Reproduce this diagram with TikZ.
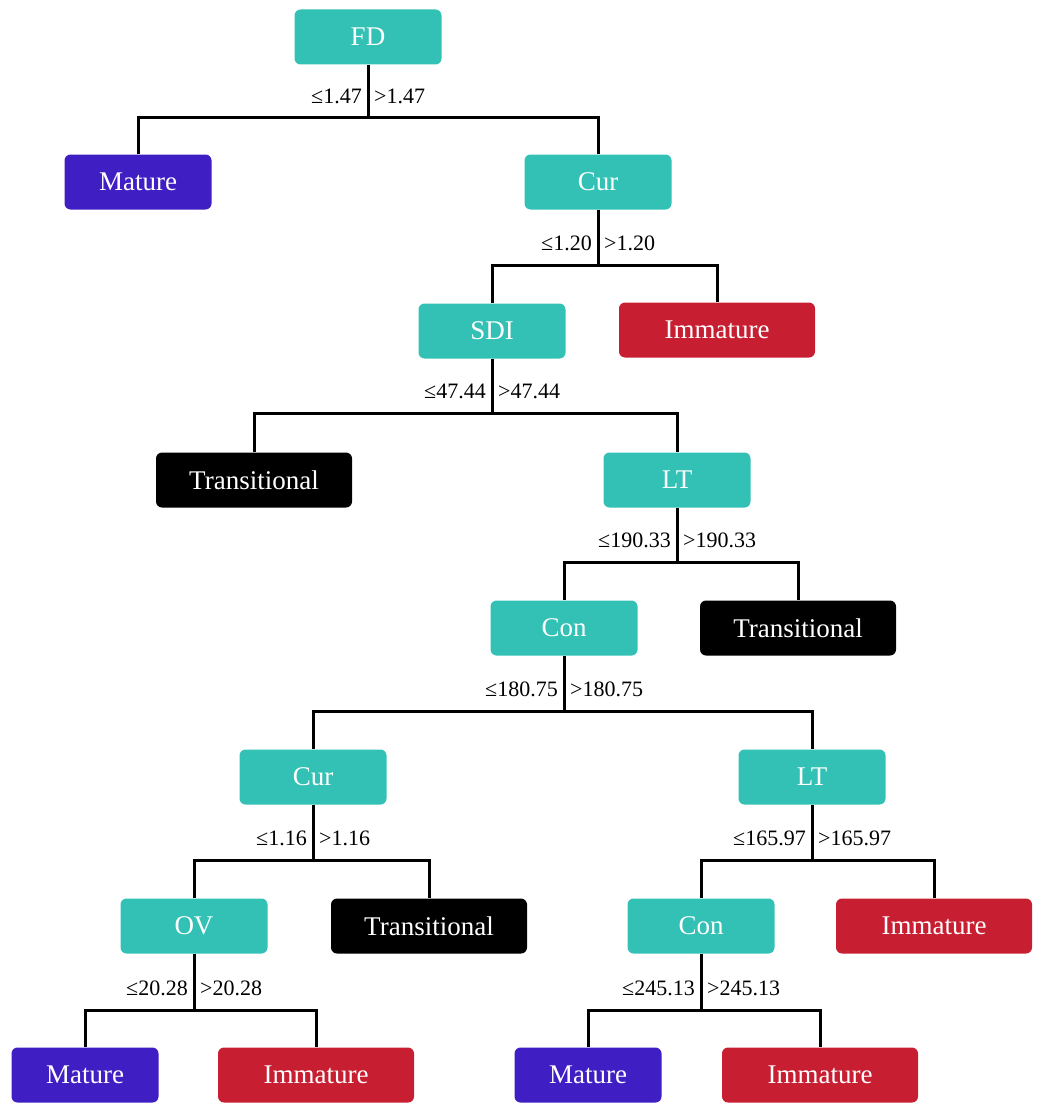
\documentclass[tikz,border=0pt]{standalone}
\usepackage{fontspec}
\setmainfont{Liberation Serif}
\begin{document}
\begin{tikzpicture}[x=1pt,y=-1pt,
  box/.style={rounded corners=6pt,minimum height=55pt,text=white,font=\fontsize{27}{27}\selectfont,inner sep=0pt},
  tl/.style={box,fill=teal1,minimum width=147pt},
  ma/.style={box,fill=purp,minimum width=147pt},
  im/.style={box,fill=redc,minimum width=196pt},
  tr/.style={box,fill=black,minimum width=196pt},
  lab/.style={font=\fontsize{22}{22}\selectfont,inner sep=0pt},
  e/.style={line width=3pt}]
\definecolor{teal1}{HTML}{33C1B5}
\definecolor{purp}{HTML}{3F1EC3}
\definecolor{redc}{HTML}{C81E32}
\useasboundingbox (0,0) rectangle (1043,1113);
\node[tl] (FD) at (368,37) {FD};
\node[ma] (M1) at (138,182) {Mature};
\node[tl] (C1) at (598,182) {Cur};
\node[tl] (S) at (492,331) {SDI};
\node[im] (I1) at (717,330) {Immature};
\node[tr] (T1) at (254,480) {Transitional};
\node[tl] (L1) at (677,480) {LT};
\node[tl] (N1) at (564,628) {Con};
\node[tr] (T2) at (798,628) {Transitional};
\node[tl] (C2) at (313,777) {Cur};
\node[tl] (L2) at (812,777) {LT};
\node[tl] (O) at (194,926) {OV};
\node[tr] (T3) at (429,926) {Transitional};
\node[tl] (N2) at (701,926) {Con};
\node[im] (I2) at (934,926) {Immature};
\node[ma] (M2) at (85,1075) {Mature};
\node[im] (I3) at (316,1075) {Immature};
\node[ma] (M3) at (588,1075) {Mature};
\node[im] (I4) at (820,1075) {Immature};
\newcommand{\split}[6]{%
  \draw[e] (#1.south) -- (#1.south |- 0,#4) coordinate (#1b);
  \draw[e] (#2.north) |- (#1b) -| (#3.north);
  \node[lab,anchor=east] at ([xshift=-6pt]#1.south |- 0,#4-22) {#5};
  \node[lab,anchor=west] at ([xshift=6pt]#1.south |- 0,#4-22) {#6};}
\split{FD}{M1}{C1}{118}{≤1.47}{>1.47}
\split{C1}{S}{I1}{265}{≤1.20}{>1.20}
\split{S}{T1}{L1}{413}{≤47.44}{>47.44}
\split{L1}{N1}{T2}{562}{≤190.33}{>190.33}
\split{N1}{C2}{L2}{711}{≤180.75}{>180.75}
\split{C2}{O}{T3}{860}{≤1.16}{>1.16}
\split{L2}{N2}{I2}{860}{≤165.97}{>165.97}
\split{O}{M2}{I3}{1010}{≤20.28}{>20.28}
\split{N2}{M3}{I4}{1010}{≤245.13}{>245.13}
\end{tikzpicture}
\end{document}
